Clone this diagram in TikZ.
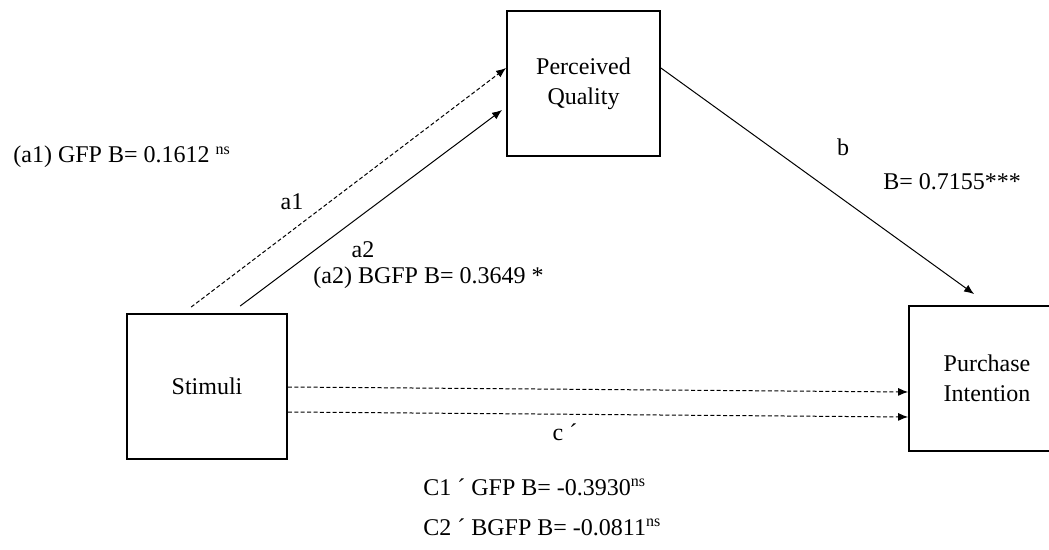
\documentclass[tikz,border=0pt]{standalone}
\usepackage{fontspec}
\setmainfont{Liberation Serif}
\usepackage{tikz}
\usetikzlibrary{arrows.meta,positioning}

\begin{document}
\begin{tikzpicture}[x=0.5pt, y=-0.5pt, font=\fontsize{12}{14}\selectfont,
    block/.style={draw, line width=0.9pt, rectangle, minimum height=72.5pt, align=center, inner sep=0pt, font=\fontsize{12}{15}\selectfont},
    lbl/.style={inner sep=0pt},
    path/.style={-{Latex[length=5pt,width=4pt]}, line width=0.5pt},
    dpath/.style={-{Latex[length=5pt,width=4pt]}, line width=0.5pt, dash pattern=on 2pt off 1.2pt}]
                \useasboundingbox (0,0) rectangle (1049,550);
                \node[block, minimum width=80pt] (stim) at (207,386.5) {Stimuli};
                \node[block, minimum width=76.5pt] (pq) at (583.5,83.5) {Perceived\\Quality};
                \node[block, minimum width=78pt] (pi) at (987,378.5) {Purchase\\Intention};
                \draw[dpath] ([shift={(65,-6)}]stim.north west) -- ([shift={(0,-15.5)}]pq.west);
                \draw[path] ([shift={(114,-7)}]stim.north west) -- ([shift={(-4,26.5)}]pq.west);
                \draw[path] ([shift={(0,-15.5)}]pq.east) -- ([shift={(66,-11)}]pi.north west);
                \draw[dpath] ([shift={(0,0.5)}]stim.east) -- ([shift={(0,13.5)}]pi.west);
                \draw[dpath] ([shift={(0,25.5)}]stim.east) -- ([shift={(0,38.5)}]pi.west);
                \node[lbl, anchor=west] (a1val) at (13,157) {(a1) GFP B= 0.1612 \textsuperscript{ns}};
                \node[lbl] (a1) at (292,202) {a1};
                \node[lbl] (a2) at (363,250) {a2};
                \node[lbl, anchor=west] (a2val) at (313,278) {(a2) BGFP B= 0.3649 *};
                \node[lbl] (b) at (843,147) {b};
                \node[lbl, anchor=west] (bval) at (883,182) {B= 0.7155***};
                \node[lbl] (c) at (565,432) {c ´};
                \node[lbl, anchor=west] (c1val) at (423,487) {C1 ´ GFP B= -0.3930\textsuperscript{ns}};
                \node[lbl, anchor=west] (c2val) at (423,527) {C2 ´ BGFP B= -0.0811\textsuperscript{ns}};
            \end{tikzpicture}
\end{document}
